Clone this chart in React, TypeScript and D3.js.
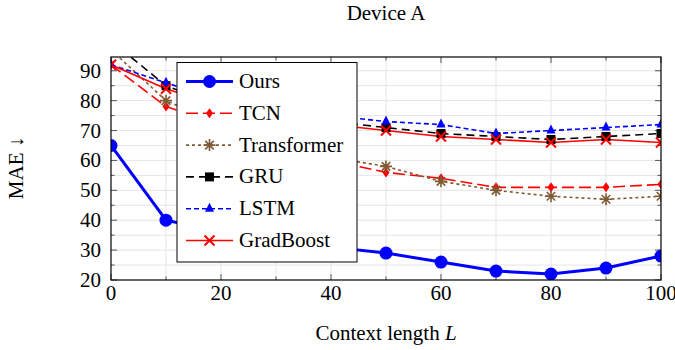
import React, { useEffect, useRef } from 'react';
import * as d3 from 'd3';

const contextLengths = [0, 10, 20, 30, 40, 50, 60, 70, 80, 90, 100];
const ours = [65, 40, 36, 33, 31, 29, 26, 23, 22, 24, 28];
const tcn = [92, 78, 72, 66, 60, 56, 54, 51, 51, 51, 52];
const transformer = [97, 80, 72, 66, 61, 58, 53, 50, 48, 47, 48];
const gru = [100, 85, 78, 75, 73, 71, 69, 68, 67, 68, 69];
const lstm = [92, 86, 80, 77, 75, 73, 72, 69, 70, 71, 72];
const gradBoost = [92, 84, 78, 75, 72, 70, 68, 67, 66, 67, 66];
const xTicks = [0, 20, 40, 60, 80, 100];
const yTicks = [20, 30, 40, 50, 60, 70, 80, 90];

type Series = {
  name: string;
  values: number[];
  color: string;
  width: number;
  dash: string;
  marker: string;
};

const series: Series[] = [
  { name: 'Ours', values: ours, color: '#0000ff', width: 3, dash: '', marker: 'circle' },
  { name: 'TCN', values: tcn, color: '#ff0000', width: 1.6, dash: '12,5', marker: 'diamond' },
  { name: 'Transformer', values: transformer, color: '#7f5a33', width: 1.6, dash: '3,3', marker: 'asterisk' },
  { name: 'GRU', values: gru, color: '#000000', width: 1.6, dash: '8,5', marker: 'square' },
  { name: 'LSTM', values: lstm, color: '#0000ff', width: 1.6, dash: '5,3', marker: 'triangle' },
  { name: 'GradBoost', values: gradBoost, color: '#ff0000', width: 1.6, dash: '', marker: 'cross' },
];

const drawMarker = (g: any, kind: string, x: number, y: number, color: string) => {
  if (kind === 'circle') {
    g.append('circle').attr('cx', x).attr('cy', y).attr('r', 6.5).attr('fill', color);
  } else if (kind === 'diamond') {
    g.append('path')
      .attr('d', `M${x},${y - 5}L${x + 3.5},${y}L${x},${y + 5}L${x - 3.5},${y}Z`)
      .attr('fill', color);
  } else if (kind === 'square') {
    g.append('rect').attr('x', x - 4.5).attr('y', y - 4.5).attr('width', 9).attr('height', 9).attr('fill', color);
  } else if (kind === 'triangle') {
    g.append('path')
      .attr('d', `M${x},${y - 6}L${x + 4.5},${y + 3}L${x - 4.5},${y + 3}Z`)
      .attr('fill', color);
  } else if (kind === 'cross') {
    g.append('path')
      .attr('d', `M${x - 5},${y - 5}L${x + 5},${y + 5}M${x - 5},${y + 5}L${x + 5},${y - 5}`)
      .attr('stroke', color).attr('stroke-width', 2);
  } else if (kind === 'asterisk') {
    let d = '';
    for (let k = 0; k < 4; k++) {
      const a = (k * Math.PI) / 4;
      const dx = Math.cos(a) * 6;
      const dy = Math.sin(a) * 6;
      d += `M${x - dx},${y - dy}L${x + dx},${y + dy}`;
    }
    g.append('path').attr('d', d).attr('stroke', color).attr('stroke-width', 1.6);
  }
};

const App = () => {
  const ref = useRef<SVGSVGElement>(null);

  useEffect(() => {
    const svg = d3.select(ref.current);
    svg.selectAll('*').remove();
    const left = 111;
    const right = 661;
    const top = 57;
    const bottom = 280;
    const font = '"Liberation Serif", "Times New Roman", serif';
    const fs = 21;

    const xScale = d3.scaleLinear().domain([0, 100]).range([left, right]);
    const yScale = d3.scaleLinear().domain([20, 94.6]).range([bottom, top]);

    svg.append('rect').attr('width', 675).attr('height', 350).attr('fill', '#fff');

    svg.append('defs').append('clipPath').attr('id', 'plot-clip')
      .append('rect').attr('x', left).attr('y', top).attr('width', right - left).attr('height', bottom - top);

    // grid
    const grid = svg.append('g').attr('stroke', '#e5e5e5').attr('stroke-width', 1);
    d3.range(10, 100, 10).forEach(v => {
      grid.append('line').attr('x1', xScale(v)).attr('x2', xScale(v)).attr('y1', top).attr('y2', bottom);
    });
    d3.range(25, 95, 5).forEach(v => {
      grid.append('line').attr('x1', left).attr('x2', right).attr('y1', yScale(v)).attr('y2', yScale(v));
    });

    // ticks
    const ticks = svg.append('g').attr('stroke', '#555').attr('stroke-width', 1);
    d3.range(0, 101, 10).forEach(v => {
      const len = v % 20 === 0 ? 6 : 3.5;
      ticks.append('line').attr('x1', xScale(v)).attr('x2', xScale(v)).attr('y1', bottom).attr('y2', bottom - len);
      ticks.append('line').attr('x1', xScale(v)).attr('x2', xScale(v)).attr('y1', top).attr('y2', top + len);
    });
    d3.range(20, 95, 5).forEach(v => {
      const len = v % 10 === 0 ? 6 : 3.5;
      ticks.append('line').attr('x1', left).attr('x2', left + len).attr('y1', yScale(v)).attr('y2', yScale(v));
      ticks.append('line').attr('x1', right).attr('x2', right - len).attr('y1', yScale(v)).attr('y2', yScale(v));
    });

    // series
    const plot = svg.append('g').attr('clip-path', 'url(#plot-clip)');
    const line = d3.line<number>()
      .x((d, i) => xScale(contextLengths[i]))
      .y(d => yScale(d));
    series.forEach(s => {
      plot.append('path')
        .attr('d', line(s.values))
        .attr('fill', 'none')
        .attr('stroke', s.color)
        .attr('stroke-width', s.width)
        .attr('stroke-dasharray', s.dash || null);
    });
    series.forEach(s => {
      s.values.forEach((v, i) => {
        drawMarker(plot, s.marker, xScale(contextLengths[i]), yScale(v), s.color);
      });
    });

    // frame
    svg.append('rect')
      .attr('x', left).attr('y', top).attr('width', right - left).attr('height', bottom - top)
      .attr('fill', 'none').attr('stroke', '#000').attr('stroke-width', 1.2);

    // tick labels
    xTicks.forEach(v => {
      svg.append('text').attr('x', xScale(v)).attr('y', bottom + 20)
        .attr('text-anchor', 'middle').attr('font-family', font).attr('font-size', fs)
        .text(v);
    });
    yTicks.forEach(v => {
      svg.append('text').attr('x', left - 10).attr('y', yScale(v) + 7)
        .attr('text-anchor', 'end').attr('font-family', font).attr('font-size', fs)
        .text(v);
    });

    // legend
    const lg = svg.append('g');
    lg.append('rect').attr('x', 177).attr('y', 62.5).attr('width', 180).attr('height', 199.5)
      .attr('fill', '#fff').attr('stroke', '#000').attr('stroke-width', 1);
    series.forEach((s, i) => {
      const y = 81.5 + i * 31.8;
      lg.append('line').attr('x1', 186).attr('x2', 233).attr('y1', y).attr('y2', y)
        .attr('stroke', s.color).attr('stroke-width', s.width)
        .attr('stroke-dasharray', s.dash || null);
      drawMarker(lg, s.marker, 209.5, y, s.color);
      lg.append('text').attr('x', 239).attr('y', y + 6.5)
        .attr('font-family', font).attr('font-size', fs).text(s.name);
    });

    // titles
    svg.append('text').attr('x', 386).attr('y', 20).attr('text-anchor', 'middle')
      .attr('font-family', font).attr('font-size', fs).text('Device A');
    const xl = svg.append('text').attr('x', 386).attr('y', 340).attr('text-anchor', 'middle')
      .attr('font-family', font).attr('font-size', fs);
    xl.append('tspan').text('Context length ');
    xl.append('tspan').attr('font-style', 'italic').text('L');
    svg.append('text').attr('transform', 'translate(23,168) rotate(-90)').attr('text-anchor', 'middle')
      .attr('font-family', font).attr('font-size', fs).text('MAE ↓');
  }, []);

  return (
    <svg ref={ref} width={675} height={350} style={{ position: 'absolute', left: 0, top: 0 }} />
  );
};

export default App;
